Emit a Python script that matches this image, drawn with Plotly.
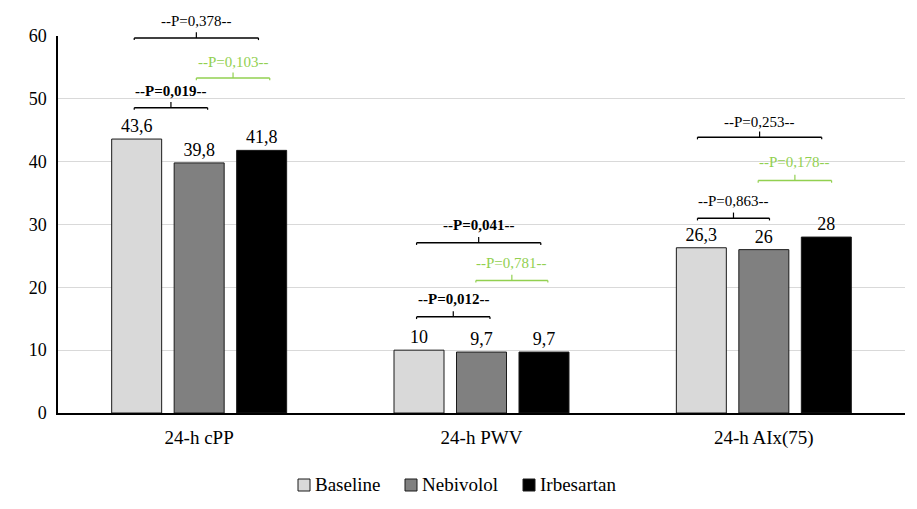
import plotly.graph_objects as go

categories = ["24-h cPP", "24-h PWV", "24-h AIx(75)"]
baseline = [43.6, 10, 26.3]
nebivolol = [39.8, 9.7, 26]
irbesartan = [41.8, 9.7, 28]
series_names = ["Baseline", "Nebivolol", "Irbesartan"]
series_colors = ["#d9d9d9", "#808080", "#000000"]

# brackets: (category index, x-start offset, x-end offset, line value, label value, text, color, bold)
brackets = [
    (0, -0.23, 0.21, 59.7, 62.4, "--P=0,378--", "#000000", False),
    (0, -0.01, 0.25, 53.3, 55.9, "--P=0,103--", "#92d050", False),
    (0, -0.23, 0.03, 48.6, 51.2, "--P=0,019--", "#000000", True),
    (1, -0.23, 0.21, 27.1, 29.9, "--P=0,041--", "#000000", True),
    (1, -0.02, 0.235, 21.1, 23.9, "--P=0,781--", "#92d050", False),
    (1, -0.23, 0.03, 15.3, 18.1, "--P=0,012--", "#000000", True),
    (2, -0.235, 0.205, 43.9, 46.3, "--P=0,253--", "#000000", False),
    (2, -0.02, 0.24, 37.0, 40.0, "--P=0,178--", "#92d050", False),
    (2, -0.235, 0.02, 31.0, 33.7, "--P=0,863--", "#000000", False),
]

YMAX = 60
FONT = "Liberation Serif, Times New Roman, serif"
W, H = 917, 509
OFF = 8  # default page body margin
# target plot area in screen pixels: left 58, right 905, top 36, bottom 413
ML, MR, MT, MB = 58 - OFF, 12 + OFF, 36 - OFF, 96 + OFF

def fmt(v):
    return ("%g" % v).replace(".", ",")

fig = go.Figure()
for name, vals, col in zip(series_names, [baseline, nebivolol, irbesartan], series_colors):
    fig.add_trace(go.Bar(
        name=name, x=list(range(len(categories))), y=vals,
        marker=dict(color=col, line=dict(color="#1a1a1a", width=1)),
        text=[fmt(v) for v in vals], textposition="outside",
        textfont=dict(family=FONT, size=18, color="#000000"),
        cliponaxis=False, showlegend=False,
    ))

ncat = len(categories)
def xpaper(c, dx):
    return (c + dx + 0.5) / ncat

shapes = []
annotations = []
for c, x0, x1, yl, yt, txt, col, bold in brackets:
    p0, p1 = xpaper(c, x0), xpaper(c, x1)
    pm = (p0 + p1) / 2
    y = yl / YMAX
    tick = 0.9 / YMAX
    cap = 0.35 / YMAX
    shapes.append(dict(type="line", xref="paper", yref="paper", x0=p0, x1=p1, y0=y, y1=y,
                       line=dict(color=col, width=1.5)))
    shapes.append(dict(type="line", xref="paper", yref="paper", x0=pm, x1=pm, y0=y, y1=y + tick,
                       line=dict(color=col, width=1.2)))
    for pe in (p0, p1):
        shapes.append(dict(type="line", xref="paper", yref="paper", x0=pe, x1=pe, y0=y, y1=y - cap,
                           line=dict(color=col, width=1.2)))
    annotations.append(dict(xref="paper", yref="paper", x=pm, y=yt / YMAX,
                            text=("<b>%s</b>" % txt) if bold else txt, showarrow=False,
                            font=dict(family=FONT, size=15, color=col),
                            xanchor="center", yanchor="middle"))

# manual legend below the plot (screen pixel layout converted to paper coordinates)
plot_w = W - ML - MR
plot_h = H - MT - MB
plot_left_scr = ML + OFF
plot_bottom_scr = H - MB + OFF
leg_y_px = 485
leg_x_px = [298, 405, 523]
sq = 12
for name, col, lx in zip(series_names, series_colors, leg_x_px):
    x0 = (lx - plot_left_scr) / plot_w
    x1 = (lx + sq - plot_left_scr) / plot_w
    yc = (plot_bottom_scr - leg_y_px) / plot_h
    hh = (sq / 2) / plot_h
    shapes.append(dict(type="rect", xref="paper", yref="paper", x0=x0, x1=x1, y0=yc - hh, y1=yc + hh,
                       fillcolor=col, line=dict(color="#1a1a1a", width=1)))
    annotations.append(dict(xref="paper", yref="paper", x=(lx + sq + 3 - plot_left_scr) / plot_w, y=yc,
                            text=name, showarrow=False, xanchor="left", yanchor="middle",
                            font=dict(family=FONT, size=19, color="#000000")))

fig.update_layout(
    width=W, height=H,
    margin=dict(l=ML, r=MR, t=MT, b=MB),
    paper_bgcolor="white", plot_bgcolor="white",
    barmode="group", bargap=0.336, bargroupgap=0.2,
    font=dict(family=FONT, size=18, color="#000000"),
    shapes=shapes, annotations=annotations,
    showlegend=False,
)
fig.update_xaxes(tickvals=list(range(ncat)), ticktext=categories, range=[-0.5, ncat - 0.5],
                 showline=True, linecolor="#000000", linewidth=1.5, ticks="", automargin=False,
                 ticklabelstandoff=6,
                 tickfont=dict(family=FONT, size=19, color="#000000"), showgrid=False)
fig.update_yaxes(range=[0, YMAX], dtick=10, showline=True, linecolor="#000000", linewidth=1.5,
                 showgrid=True, gridcolor="#d9d9d9", gridwidth=1, ticks="", zeroline=False,
                 ticklabelstandoff=6, automargin=False,
                 tickfont=dict(family=FONT, size=18, color="#000000"))

fig.write_html("out.html")
